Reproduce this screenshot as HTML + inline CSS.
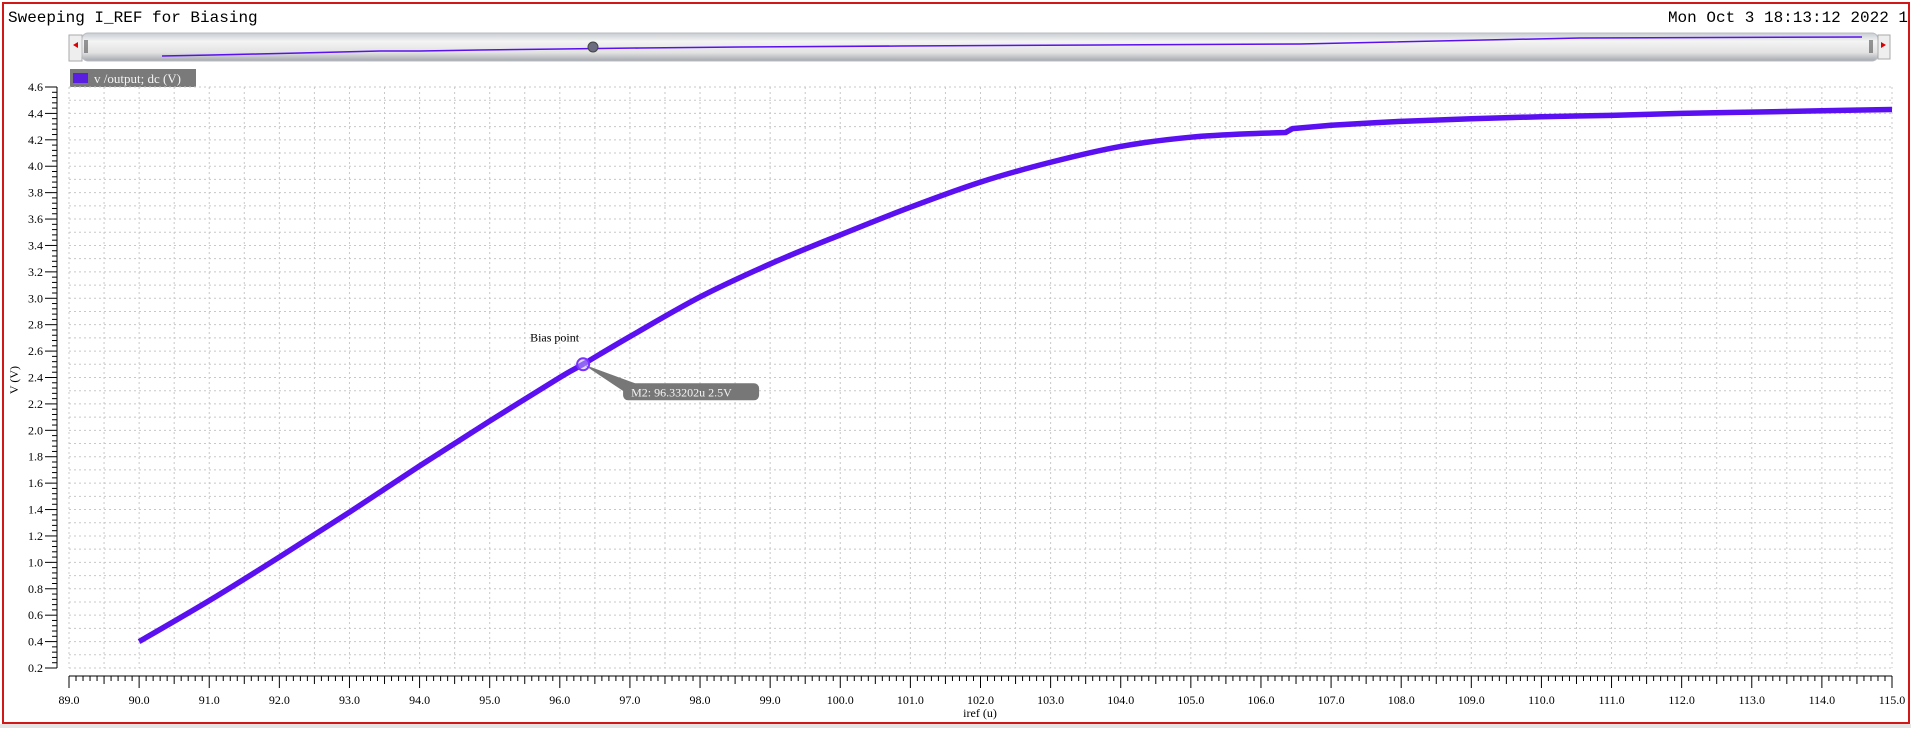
<!DOCTYPE html>
<html><head><meta charset="utf-8"><style>
html,body{margin:0;padding:0;background:#fff;}
body{width:1911px;height:728px;overflow:hidden;position:relative;font-family:"Liberation Serif",serif;}
</style></head><body>
<svg width="1911" height="728" xmlns="http://www.w3.org/2000/svg">
<defs>
<linearGradient id="sb" x1="0" y1="0" x2="0" y2="1">
<stop offset="0" stop-color="#c8ccd2"/><stop offset="0.3" stop-color="#f4f4f4"/><stop offset="0.7" stop-color="#e2e2e2"/><stop offset="1" stop-color="#a4a8ae"/></linearGradient>
</defs>
<rect x="0" y="0" width="1911" height="728" fill="#fff"/>
<rect x="0" y="724" width="1911" height="4" fill="#e4e4e4"/>
<rect x="3" y="3" width="1906" height="720" fill="none" stroke="#d01818" stroke-width="2"/>
<text x="8" y="22" font-family="Liberation Mono,monospace" font-size="16" fill="#000">Sweeping I_REF for Biasing</text>
<text x="1908" y="22" text-anchor="end" font-family="Liberation Mono,monospace" font-size="16" fill="#000">Mon Oct 3 18:13:12 2022 1</text>
<g>
<rect x="69" y="35" width="13" height="26" fill="#eee" stroke="#aaa"/>
<polygon points="73,45 78,42 78,48" fill="#d00"/>
<rect x="82" y="33" width="1796" height="28" rx="6" fill="url(#sb)" stroke="#b8bcc2"/>
<line x1="85" y1="40" x2="85" y2="53" stroke="#333"/><line x1="87" y1="40" x2="87" y2="53" stroke="#333"/>
<line x1="1870" y1="40" x2="1870" y2="53" stroke="#333"/><line x1="1872" y1="40" x2="1872" y2="53" stroke="#333"/>
<rect x="1878" y="35" width="12" height="24" fill="#eee" stroke="#aaa"/>
<polygon points="1886,45 1881,42 1881,48" fill="#d00"/>
<polyline points="162,56 212,55 257,54 300,53 340,52 380,51 420,51 480,50 560,49 640,48 740,47 900,46 1100,45 1300,44 1580,38 1862,37" fill="none" stroke="#5a10f0" stroke-width="1.5"/>
<circle cx="593" cy="47" r="5" fill="#6c6c80" stroke="#444"/>
</g>
<g>
<rect x="70" y="69" width="126" height="18" fill="#7a7a7a"/>
<rect x="73" y="73" width="15" height="10" fill="#5a1ee0"/>
<text x="94" y="83" font-size="13" fill="#f4f4f4">v /output; dc (V)</text>
</g>
<g id="grid"></g>
<g id="axes"></g>
<text x="18" y="380" font-size="12" text-anchor="middle" transform="rotate(-90 18 380)">V (V)</text>
<text x="980" y="717" font-size="12" text-anchor="middle">iref (u)</text>
<g id="series"></g>
<g id="marker"></g>
</svg>
<script>
const NS="http://www.w3.org/2000/svg";
const xValues=[90,91,92,93,94,95,96,96.33,97,98,99,100,101,102,103,104,105,106,106.35,106.45,107,108,109,110,111,112,113,114,115];
const yValues=[0.40,0.71,1.04,1.38,1.73,2.07,2.40,2.50,2.71,3.01,3.26,3.48,3.69,3.88,4.03,4.15,4.22,4.25,4.255,4.285,4.31,4.34,4.36,4.375,4.385,4.40,4.41,4.42,4.43];
const xTicks=["89.0","90.0","91.0","92.0","93.0","94.0","95.0","96.0","97.0","98.0","99.0","100.0","101.0","102.0","103.0","104.0","105.0","106.0","107.0","108.0","109.0","110.0","111.0","112.0","113.0","114.0","115.0"];
const yTicks=["0.2","0.4","0.6","0.8","1.0","1.2","1.4","1.6","1.8","2.0","2.2","2.4","2.6","2.8","3.0","3.2","3.4","3.6","3.8","4.0","4.2","4.4","4.6"];
const markerX=[96.33202];
const markerY=[2.5];
const X0=69,X1=1892,Y0=668,Y1=87,xmin=89,xmax=115,ymin=0.2,ymax=4.6;
const sx=v=>X0+(v-xmin)/(xmax-xmin)*(X1-X0);
const sy=v=>Y0-(v-ymin)/(ymax-ymin)*(Y0-Y1);
function mk(t,a,p){const e=document.createElementNS(NS,t);for(const k in a)e.setAttribute(k,a[k]);p.appendChild(e);return e;}
const grid=document.getElementById('grid'),axes=document.getElementById('axes');
for(let v=xmin;v<=xmax+1e-9;v+=0.5){
 const l=mk('line',{x1:sx(v),x2:sx(v),y1:Y1,y2:Y0,stroke:'#c8c8c8','stroke-dasharray':'2,3'},grid);
 
}
for(let v=ymin;v<=ymax+1e-9;v+=0.1){
 const l=mk('line',{x1:X0,x2:X1,y1:sy(v),y2:sy(v),stroke:'#c8c8c8','stroke-dasharray':'2,3'},grid);
 
}
mk('line',{x1:57,x2:57,y1:Y1,y2:Y0,stroke:'#000'},axes);
for(let i=0;i<=110;i++){const v=ymin+i*0.04;const y=sy(v);
 const maj=i%5==0;mk('line',{x1:maj?45:52,x2:57,y1:y,y2:y,stroke:'#000'},axes);}
yTicks.forEach(t=>{const e=mk('text',{x:43,y:sy(+t)+4,'text-anchor':'end','font-size':'12',fill:'#000'},axes);e.textContent=t;
 });
mk('line',{x1:X0,x2:X1,y1:676,y2:676,stroke:'#000'},axes);
for(let i=0;i<=260;i++){const v=xmin+i*0.1;const x=sx(v);
 const len=i%10==0?12:(i%5==0?8:5);mk('line',{x1:x,x2:x,y1:676,y2:676+len,stroke:'#000'},axes);}
xTicks.forEach(t=>{const e=mk('text',{x:sx(+t),y:704,'text-anchor':'middle','font-size':'12',fill:'#000'},axes);e.textContent=t;
 });
const pts=xValues.map((x,i)=>[sx(x),sy(yValues[i])]);
let d='M'+pts[0][0]+','+pts[0][1];
for(let i=0;i<pts.length-1;i++){
 const p0=pts[Math.max(0,i-1)],p1=pts[i],p2=pts[i+1],p3=pts[Math.min(pts.length-1,i+2)];
 if(i==17||i==18||i==19){d+=' L'+p2[0]+','+p2[1];continue;}
 const c1=[p1[0]+(p2[0]-p0[0])/6,p1[1]+(p2[1]-p0[1])/6],c2=[p2[0]-(p3[0]-p1[0])/6,p2[1]-(p3[1]-p1[1])/6];
 d+=' C'+c1+' '+c2+' '+p2;
}
const path=mk('path',{d:d,fill:'none',stroke:'#5a10f0','stroke-width':'5.5','stroke-linejoin':'round'},document.getElementById('series'));


const mg=document.getElementById('marker');
const mx=sx(markerX[0]),my=sy(markerY[0]);
const bl=mk('text',{x:mx-53,y:my-23,'font-size':'12',fill:'#000'},mg);bl.textContent='Bias point';


const tri=mk('polygon',{points:`${mx},${my} ${mx+52},${my+19} ${mx+42},${my+28}`,fill:'#777'},mg);


const box=mk('rect',{x:mx+40,y:my+19,width:136,height:17,rx:5,fill:'#777'},mg);


const bt=mk('text',{x:mx+48,y:my+32,'font-size':'12',fill:'#f4f4f4'},mg);bt.textContent='M2: 96.33202u 2.5V';


const c=mk('circle',{cx:mx,cy:my,r:6,fill:'#c8b8ff','fill-opacity':'0.5',stroke:'#7a30ff','stroke-width':'2'},mg);


</script>
</body></html>
